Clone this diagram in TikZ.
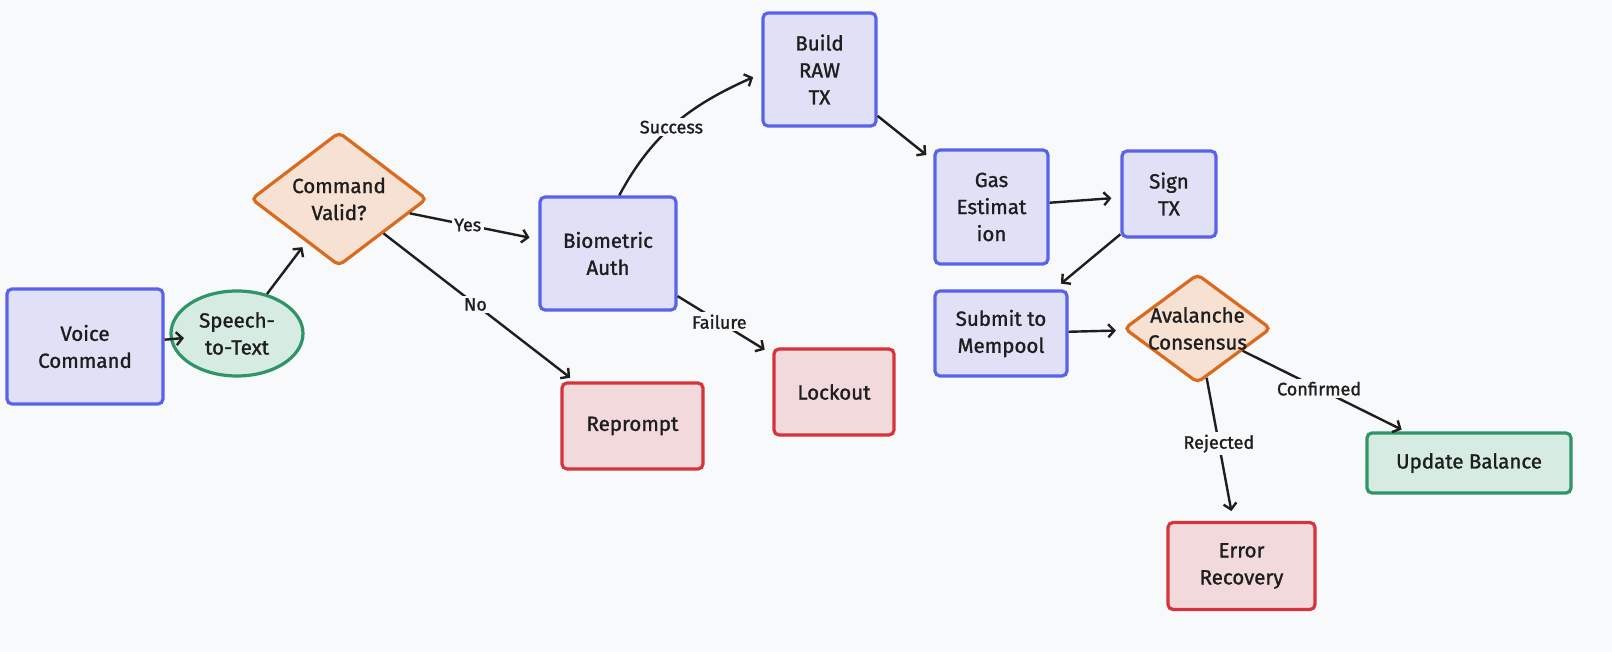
\documentclass[tikz,border=0pt]{standalone}
\usepackage{fontspec}
\setmainfont{Fira Sans}
\newfontfamily\handfont{Fira Sans}[FakeBold=1.3]
\usetikzlibrary{shapes.geometric,arrows.meta,calc}
\definecolor{bg}{HTML}{F8F9FB}
\definecolor{ink}{HTML}{1E1E1E}
\definecolor{blueb}{HTML}{5B62EA}
\definecolor{bluef}{HTML}{E0E1F7}
\definecolor{orab}{HTML}{D96A1E}
\definecolor{oraf}{HTML}{F7E1D3}
\definecolor{grnb}{HTML}{2F9467}
\definecolor{grnf}{HTML}{D6EBE2}
\definecolor{redb}{HTML}{D6343C}
\definecolor{redf}{HTML}{F2DADC}
\begin{document}
\begin{tikzpicture}[x=1pt,y=1pt,
  nodetxt/.style={align=center, text=ink, font=\handfont\fontsize{20.5}{27}\selectfont},
  base/.style={nodetxt, draw, line width=3.2pt, rounded corners=5pt, inner sep=0pt},
  bluebox/.style={base, rectangle, draw=blueb, fill=bluef},
  redbox/.style={base, rectangle, draw=redb, fill=redf},
  grnbox/.style={base, rectangle, draw=grnb, fill=grnf},
  grnell/.style={base, ellipse, draw=grnb, fill=grnf},
  decide/.style={base, diamond, draw=orab, fill=oraf},
  dtext/.style={nodetxt, inner sep=0pt},
  conn/.style={draw=ink, line width=2.4pt, -{Straight Barb[length=6pt,width=13pt]}, shorten >=6pt},
  lbl/.style={fill=bg, inner sep=2.5pt, text=ink, font=\handfont\fontsize{18}{21}\selectfont}]
\fill[bg] (0,0) rectangle (1612,652);
\useasboundingbox (0,0) rectangle (1612,652);

\node[bluebox, minimum width=156pt, minimum height=115pt] (voice) at (85,305.5) {Voice\\Command};
\node[grnell, minimum width=132pt, minimum height=85pt] (stt) at (237,318.5) {Speech-\\to-Text};
\node[decide, minimum width=176pt, minimum height=134pt,
      label={[dtext]center:Command\\Valid?}] (cv) at (339,453) {};
\node[bluebox, minimum width=136pt, minimum height=113pt] (bio) at (608,398.5) {Biometric\\Auth};
\node[redbox, minimum width=141pt, minimum height=86pt] (rep) at (632.5,226) {Reprompt};
\node[redbox, minimum width=120pt, minimum height=86pt] (lock) at (834,260) {Lockout};
\node[bluebox, minimum width=113pt, minimum height=113pt] (build) at (819.5,582.5) {Build\\RAW\\TX};
\node[bluebox, minimum width=113pt, minimum height=114pt] (gas) at (991.5,445) {Gas\\Estimat\\ion};
\node[bluebox, minimum width=94pt, minimum height=86pt] (sign) at (1169,458) {Sign\\TX};
\node[bluebox, minimum width=132pt, minimum height=85pt] (submit) at (1001,318.5) {Submit to\\Mempool};
\node[decide, minimum width=147pt, minimum height=109pt,
      label={[dtext]center:Avalanche\\Consensus}] (aval) at (1197.5,323.5) {};
\node[grnbox, minimum width=204pt, minimum height=60pt] (upd) at (1469,189) {Update Balance};
\node[redbox, minimum width=147pt, minimum height=87pt] (err) at (1241.5,86) {Error\\Recovery};

\draw[conn, shorten >=-14pt] (voice) -- (stt);
\draw[conn] (stt) -- (cv);
\draw[conn, shorten >=9pt] (cv) -- node[lbl, pos=0.45] {Yes} (bio);
\draw[conn] (cv) -- node[lbl, pos=0.48] {No} (rep);
\draw[conn, shorten >=9pt] (bio.79) to[out=62, in=204] node[lbl, pos=0.45] {Success} (build.184);
\draw[conn, shorten >=9pt] (bio) -- node[lbl, pos=0.44] {Failure} (lock);
\draw[conn, shorten >=9pt] (build) -- (gas);
\draw[conn, shorten >=9pt] (gas) -- (sign);
\draw[conn, shorten >=9pt] (sign) -- (submit);
\draw[conn, shorten >=9pt] (submit) -- (aval);
\draw[conn, shorten >=10pt] (aval) -- node[lbl, pos=0.46] {Rejected} (err);
\draw[conn, shorten >=4pt] (aval) -- node[lbl, pos=0.47] {Confirmed} (upd);
\end{tikzpicture}
\end{document}
